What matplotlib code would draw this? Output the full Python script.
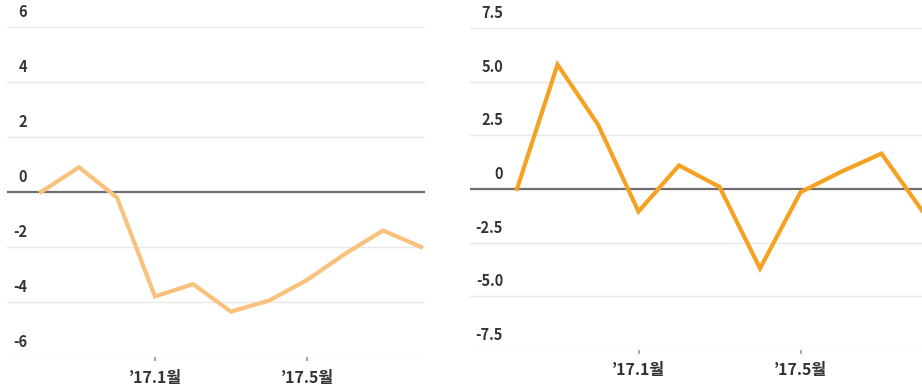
import matplotlib
matplotlib.use("Agg")
import matplotlib.pyplot as plt
from matplotlib.transforms import offset_copy

plt.rcParams['font.family'] = ['Noto Sans CJK KR', 'DejaVu Sans']

# Monthly series, '16.10 through '17.8
months = ["16.10", "16.11", "16.12", "17.1", "17.2", "17.3", "17.4",
          "17.5", "17.6", "17.7", "17.8"]
left_values = [0.0, 0.9, -0.2, -3.8, -3.35, -4.35, -3.95, -3.2, -2.25, -1.4, -2.0]
right_values = [0.0, 5.8, 3.0, -1.05, 1.1, 0.1, -3.7, -0.15, 0.8, 1.65, -1.0]

left_yticks = [-6, -4, -2, 0, 2, 4, 6]
left_ylabels = ["-6", "-4", "-2", "0", "2", "4", "6"]
right_yticks = [-7.5, -5.0, -2.5, 0, 2.5, 5.0, 7.5]
right_ylabels = ["-7.5", "-5.0", "-2.5", "0", "2.5", "5.0", "7.5"]

xtick_pos = [3, 7]
xtick_labels = ["\u201917.1월", "\u201917.5월"]

W, H = 922, 388
fig = plt.figure(figsize=(W / 100, H / 100), dpi=100)


def px_axes(x0, y_top, x1, y_bot):
    return fig.add_axes([x0 / W, 1 - y_bot / H, (x1 - x0) / W, (y_bot - y_top) / H])


def style_panel(ax, values, color, yticks, ylabels, xlim, label_x):
    x = list(range(len(values)))
    for t in yticks:
        if t == 0:
            ax.axhline(t, color="#6e6e6e", lw=1.6, zorder=2)
        else:
            ax.axhline(t, color="#e8e8e8", lw=1.0, zorder=1)
    ax.plot(x, values, color=color, lw=3.0, solid_joinstyle="miter", zorder=3,
            clip_on=True)
    ax.set_xlim(*xlim)
    ax.set_ylim(yticks[0], yticks[-1])
    for s in ax.spines.values():
        s.set_visible(False)
    ax.set_yticks([])
    ax.set_xticks(xtick_pos)
    ax.set_xticklabels(xtick_labels, fontsize=11.5, fontweight="bold", color="#333333")
    ax.tick_params(axis="x", length=3, width=1.2, color="#9a9a9a", pad=6)
    trans = offset_copy(ax.get_yaxis_transform(), fig=fig, x=0, y=5, units="points")
    for t, lab in zip(yticks, ylabels):
        ax.text(label_x, t, lab, transform=trans, ha="right", va="bottom",
                fontsize=10.5, fontweight="bold", color="#333333")
    ax.patch.set_alpha(0)


# Left panel
axL = px_axes(7, 27, 425, 357)
style_panel(axL, left_values, "#F8C17C", left_yticks, left_ylabels,
            (-0.895, 10.105), (27 - 7) / (425 - 7))

# Right panel (runs off the right edge)
axR = px_axes(470, 28, 945, 350)
style_panel(axR, right_values, "#F5A223", right_yticks, right_ylabels,
            (-(517 - 470) / 40.5, (945 - 517) / 40.5), (503 - 470) / (945 - 470))

fig.savefig("out.png", dpi=100, facecolor="white")
